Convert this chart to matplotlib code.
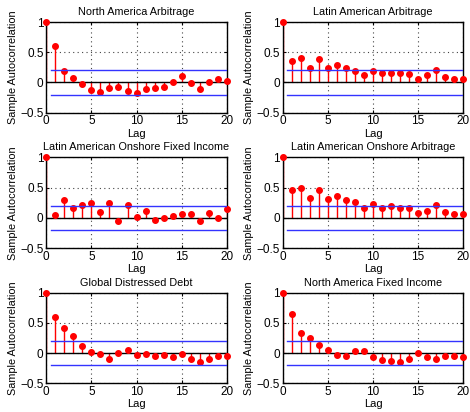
import numpy as np
import matplotlib
matplotlib.use('Agg')
import matplotlib.pyplot as plt

plt.rcParams['font.family'] = ['Liberation Sans', 'DejaVu Sans']

lags = np.arange(0, 21)
limite = 0.2

titulos = ['North America Arbitrage', 'Latin American Arbitrage',
           'Latin American Onshore Fixed Income', 'Latin American Onshore Arbitrage',
           'Global Distressed Debt', 'North America Fixed Income']

na_arbitrage = [1, 0.60, 0.195, 0.067, -0.03, -0.13, -0.155, -0.095, -0.08, -0.14, -0.18,
                -0.11, -0.095, -0.08, 0.0, 0.10, -0.005, -0.10, 0.005, 0.06, 0.03]
latam_arbitrage = [1, 0.36, 0.41, 0.235, 0.385, 0.235, 0.285, 0.235, 0.195, 0.12, 0.185,
                   0.16, 0.16, 0.15, 0.135, 0.055, 0.13, 0.20, 0.085, 0.05, 0.06]
latam_onshore_fi = [1, 0.045, 0.30, 0.17, 0.22, 0.24, 0.10, 0.24, -0.045, 0.205, 0.02,
                    0.11, -0.035, 0.005, 0.035, 0.06, 0.055, -0.06, 0.08, 0.0, 0.145]
latam_onshore_arb = [1, 0.455, 0.49, 0.33, 0.455, 0.315, 0.36, 0.29, 0.265, 0.16, 0.235,
                     0.17, 0.195, 0.17, 0.155, 0.085, 0.115, 0.215, 0.09, 0.07, 0.07]
global_distressed = [1, 0.60, 0.41, 0.28, 0.115, 0.02, -0.015, -0.10, 0.0, 0.045, -0.03,
                     -0.015, -0.055, -0.035, -0.065, -0.02, -0.105, -0.145, -0.10, -0.055, -0.055]
na_fixed_income = [1, 0.65, 0.335, 0.245, 0.14, 0.05, -0.03, -0.055, 0.03, 0.035, -0.07,
                   -0.115, -0.135, -0.145, -0.105, -0.005, -0.06, -0.10, -0.045, -0.045, -0.06]

series = [na_arbitrage, latam_arbitrage, latam_onshore_fi,
          latam_onshore_arb, global_distressed, na_fixed_income]

fig = plt.figure(figsize=(4.7, 4.12), dpi=100)

izq = [0.0985, 0.6015]
abajo = [0.7265, 0.398, 0.0697]
ancho, alto = 0.384, 0.22

for i, (titulo, valores) in enumerate(zip(titulos, series)):
    ax = fig.add_axes([izq[i % 2], abajo[i // 2], ancho, alto])
    ax.vlines(lags, 0, valores, color='red', linewidth=1, zorder=2)
    ax.plot(lags, valores, 'o', color='red', markersize=4, zorder=3, clip_on=False)
    ax.plot([0, 20], [0, 0], color='black', linewidth=1, zorder=2)
    ax.plot([0.5, 20], [limite, limite], color='#3333ff', linewidth=1, zorder=4)
    ax.plot([0.5, 20], [-limite, -limite], color='#3333ff', linewidth=1, zorder=4)
    ax.set_xlim(0, 20)
    ax.set_ylim(-0.5, 1)
    ax.set_xticks([0, 5, 10, 15, 20])
    ax.set_yticks([-0.5, 0, 0.5, 1])
    ax.set_yticklabels(['\u22120.5', '0', '0.5', '1'])
    ax.grid(True, linestyle=(0, (1, 3)), color='#444444', linewidth=0.8)
    ax.tick_params(direction='in', labelsize=8.5, length=2.5, pad=2,
                   top=True, right=True)
    for lado in ax.spines.values():
        lado.set_linewidth(1)
    ax.set_title(titulo, fontsize=7.8, pad=5)
    ax.set_xlabel('Lag', fontsize=8, labelpad=1)
    ax.set_ylabel('Sample Autocorrelation', fontsize=7.8, labelpad=1.5)

fig.savefig('out.png', dpi=100)
